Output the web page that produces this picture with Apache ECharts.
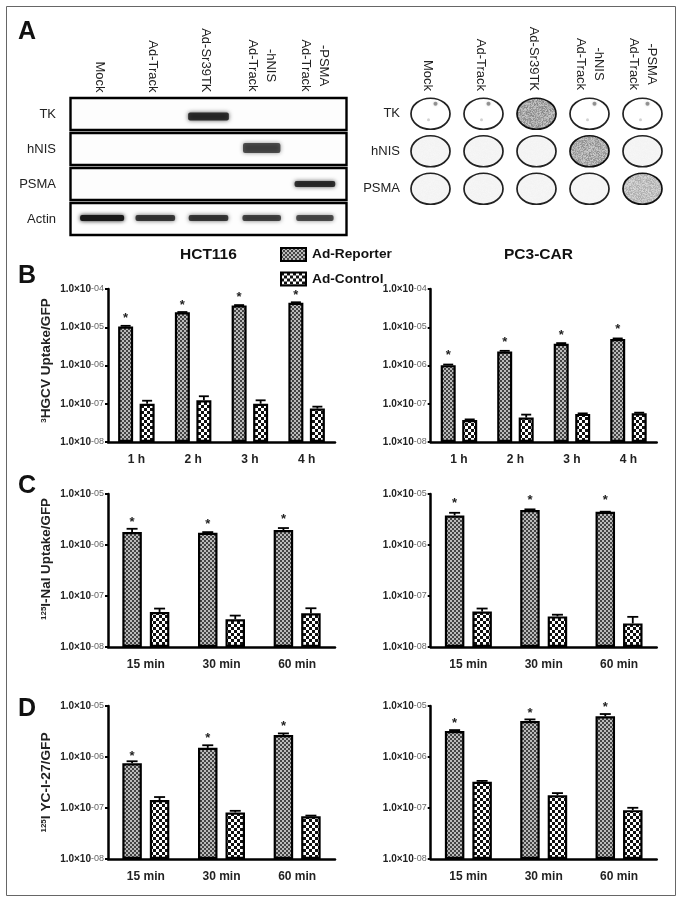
<!DOCTYPE html>
<html><head><meta charset="utf-8">
<style>html,body{margin:0;padding:0;background:#fff}#c{width:682px;height:902px;filter:blur(0.4px)}</style>
<script src="https://cdn.jsdelivr.net/npm/echarts@6/dist/echarts.min.js"></script>
</head><body><div id="c"></div>
<script>
// ---------- data ----------
const lanes = ['Mock','Ad-Track','Ad-Sr39TK','Ad-Track\n-hNIS','Ad-Track\n-PSMA'];
const blotRows = ['TK','hNIS','PSMA','Actin'];
const dotRows = ['TK','hNIS','PSMA'];
const bandTK    = [0,0,0.85,0,0];
const bandNIS   = [0,0,0,0.7,0];
const bandPSMA  = [0,0,0,0,0.85];
const bandActin = [1,0.8,0.8,0.75,0.7];
const dotTK   = [0,0,0.62,0,0];
const dotNIS  = [0.03,0.03,0.03,0.58,0.03];
const dotPSMA = [0.03,0.03,0.03,0.02,0.42];

const hours = ['1 h','2 h','3 h','4 h'];
const minutes = ['15 min','30 min','60 min'];
const legendNames = ['Ad-Reporter','Ad-Control'];

const ticksB = ['-04','-05','-06','-07','-08'];
const ticksC = ['-05','-06','-07','-08'];
const ticksD = ['-05','-06','-07','-08'];

const bLeftRep  = [1.05e-5,2.45e-5,3.73e-5,4.38e-5];
const bLeftRepE = [1.09e-5,2.5e-5,3.8e-5,4.5e-5];
const bLeftCtl  = [1.0e-7,1.24e-7,1.0e-7,7.5e-8];
const bLeftCtlE = [1.2e-7,1.57e-7,1.23e-7,8.4e-8];
const bLeftStar = [1.85e-5,4.13e-5,6.68e-5,7.55e-5];

const bRightRep  = [1.02e-6,2.33e-6,3.7e-6,4.9e-6];
const bRightRepE = [1.06e-6,2.42e-6,3.85e-6,5.1e-6];
const bRightCtl  = [3.77e-8,4.35e-8,5.42e-8,5.64e-8];
const bRightCtlE = [3.9e-8,5.2e-8,5.6e-8,5.85e-8];
const bRightStar = [2.02e-6,4.43e-6,6.89e-6,9.5e-6];

const cLeftRep  = [1.79e-6,1.74e-6,1.96e-6];
const cLeftRepE = [2.08e-6,1.79e-6,2.15e-6];
const cLeftCtl  = [4.87e-8,3.5e-8,4.6e-8];
const cLeftCtlE = [5.67e-8,4.13e-8,5.75e-8];
const cLeftStar = [3.0e-6,2.73e-6,3.33e-6];

const cRightRep  = [3.8e-6,4.84e-6,4.5e-6];
const cRightRepE = [4.28e-6,5.0e-6,4.5e-6];
const cRightCtl  = [4.95e-8,3.98e-8,2.9e-8];
const cRightCtlE = [5.68e-8,4.3e-8,3.9e-8];
const cRightStar = [6.96e-6,7.85e-6,7.85e-6];

const dLeftRep  = [7.5e-7,1.51e-6,2.69e-6];
const dLeftRepE = [8.25e-7,1.7e-6,2.9e-6];
const dLeftCtl  = [1.43e-7,8.17e-8,6.9e-8];
const dLeftCtlE = [1.64e-7,8.8e-8,7.1e-8];
const dLeftStar = [1.12e-6,2.49e-6,4.29e-6];

const dRightRep  = [3.22e-6,5.07e-6,6.26e-6];
const dRightRepE = [3.37e-6,5.46e-6,6.96e-6];
const dRightCtl  = [3.28e-7,1.77e-7,9.08e-8];
const dRightCtlE = [3.4e-7,1.96e-7,1.01e-7];
const dRightStar = [4.84e-6,7.73e-6,1.0e-5];

// ---------- textures ----------
const FONT = '"Liberation Sans", Arial, sans-serif';
function tile(w,h,draw){const c=document.createElement('canvas');c.width=w;c.height=h;draw(c.getContext('2d'));return {image:c,repeat:'repeat'};}
const patReporter = tile(4,4,g=>{g.fillStyle='#bbb';g.fillRect(0,0,4,4);g.fillStyle='#444';g.fillRect(0,0,2,2);g.fillRect(2,2,2,2);});
const patControl = tile(6,6,g=>{g.fillStyle='#fff';g.fillRect(0,0,6,6);g.fillStyle='#111';g.fillRect(0,0,3,3);g.fillRect(3,3,3,3);});
function hash(x,y){const s=Math.sin(x*127.1+y*311.7)*43758.5453;return s-Math.floor(s);}
const speckCache={};
function speckle(level){
  const k=level.toFixed(2);
  if(!speckCache[k]) speckCache[k]=tile(40,34,g=>{
    for(let y=0;y<34;y++)for(let x=0;x<40;x++){
      const n=hash(x,y)-0.5, v=Math.round(248-level*130+n*level*110);
      g.fillStyle='rgb('+v+','+v+','+v+')';g.fillRect(x,y,1,1);
    }});
  return speckCache[k];
}

// ---------- chart build ----------
const grids=[],xAxes=[],yAxes=[],series=[];

function blotPanel(left,width,top,height,rows,labelRight){
  const gi=grids.length;
  grids.push({left,top,width,height});
  xAxes.push({type:'category',gridIndex:gi,position:'top',data:lanes,axisLine:{show:false},axisTick:{show:false},
    axisLabel:{rotate:90,margin:4,interval:0,fontFamily:FONT,fontSize:13,color:'#222',
      rich:{c:{width:54,align:'center',lineHeight:18,fontFamily:FONT,fontSize:13,color:'#222'},
            s:{fontFamily:FONT,fontSize:13,color:'#222',padding:[5,0,0,0]}},
      formatter:v=>{const p=v.split('\n');return p.length<2?'{s|'+v+'}':'{c|'+p[1]+'}\n{c|'+p[0]+'}';}}});
  yAxes.push({type:'category',gridIndex:gi,inverse:true,data:rows,axisLine:{show:false},axisTick:{show:false},
    axisLabel:{margin:left-labelRight,fontFamily:FONT,fontSize:13,color:'#222'}});
  return gi;
}

// Western blot
const gWest=blotPanel(75.5,266,96.5,140,blotRows,56);
series.push({type:'custom',xAxisIndex:gWest,yAxisIndex:gWest,silent:true,z:2,
  data:blotRows.map((r,i)=>[2,i]),
  renderItem:(p,api)=>{const c=api.coord([2,api.value(1)]);return {type:'rect',
    shape:{x:p.coordSys.x-5,y:c[1]-16,width:p.coordSys.width+10,height:32},
    style:{fill:'#fdfdfd',stroke:'#000',lineWidth:2.4}};}});
const bandRows=[bandTK,bandNIS,bandPSMA,bandActin];
series.push({type:'custom',xAxisIndex:gWest,yAxisIndex:gWest,silent:true,z:3,
  data:bandRows.flatMap((row,r)=>row.map((v,l)=>[l,r,v])).filter(d=>d[2]>0),
  renderItem:(p,api)=>{
    const I=api.value(2),c=api.coord([api.value(0),api.value(1)]),r=api.value(1);
    const w=22+22*I,h=[8,10,6,6][r],dy=[2.5,-1,0,-1][r],col='rgba(25,25,25,'+I+')';
    return {type:'rect',shape:{x:c[0]-w/2,y:c[1]+dy-h/2,width:w,height:h,r:2},
      style:{fill:col,shadowBlur:4,shadowColor:col}};
  }});

// Dot blot
const gDot=blotPanel(404,265,95,112.5,dotRows,400);
const dotMatrix=[dotTK,dotNIS,dotPSMA];
series.push({type:'custom',xAxisIndex:gDot,yAxisIndex:gDot,silent:true,z:3,
  data:dotMatrix.flatMap((row,r)=>row.map((v,l)=>[l,r,v])),
  renderItem:(p,api)=>{
    const I=api.value(2),c=api.coord([api.value(0),api.value(1)]),r=api.value(1);
    const kids=[{type:'ellipse',shape:{cx:c[0],cy:c[1],rx:19.5,ry:15.5},
      style:{fill:I>0?speckle(I):'#fff',stroke:I>0.3?'#111':'#222',lineWidth:1.7}}];
    if(r===0&&I===0){
      kids.push({type:'circle',shape:{cx:c[0]+5,cy:c[1]-10,r:2},style:{fill:'rgba(90,90,90,.55)',shadowBlur:2,shadowColor:'#999'}});
      kids.push({type:'circle',shape:{cx:c[0]-2,cy:c[1]+6,r:1.5},style:{fill:'rgba(140,140,140,.4)'}});
    }
    return {type:'group',children:kids};
  }});

// Bar panels: ECharts log-axis bars rise from the value 1, so the plotted axis is
// "multiples of the bottom tick"; the tick labels restore the true exponent.
function barPanel(o){
  const gi=grids.length;
  grids.push({left:o.left,top:o.top,width:o.width,height:153});
  const n=o.cats.length, bw=n===4?15:19.5, gap=n===4?6.5:8;
  const k=Math.pow(10,o.bottomExp), up=v=>v*k;
  xAxes.push({type:'category',gridIndex:gi,data:o.cats,
    axisLine:{lineStyle:{color:'#000',width:2.5}},
    axisTick:{alignWithLabel:true,length:4,lineStyle:{color:'#000',width:2}},
    axisLabel:{margin:12,interval:0,fontFamily:FONT,fontSize:12,fontWeight:'bold',color:'#222'}});
  const y={type:'log',logBase:10,gridIndex:gi,min:1,max:Math.pow(10,o.bottomExp-o.topExp),
    axisLine:{show:true,onZero:false,lineStyle:{color:'#000',width:2.5}},
    axisTick:{show:true,length:3,lineStyle:{color:'#000',width:2}},
    minorTick:{show:false},splitLine:{show:false},
    axisLabel:{margin:4,formatter:v=>{const e=o.bottomExp-Math.round(Math.log10(v));return '{a|1.0\u00d710}{b|'+o.ticks[e-o.topExp]+'}';},
      rich:{a:{fontFamily:FONT,fontSize:10,fontWeight:'bold',color:'#222'},
            b:{fontFamily:FONT,fontSize:9,color:'#666',verticalAlign:'top',lineHeight:10,padding:[0,0,3,0]}}}};
  if(o.name){
    y.name=o.name;y.nameLocation='middle';y.nameGap=55;y.nameRotate=90;
    y.nameTextStyle={padding:[0,0,0,o.namePad],rich:{s:{fontFamily:FONT,fontSize:8,fontWeight:'bold',color:'#222',padding:[0,0,5,0]},
                           t:{fontFamily:FONT,fontSize:o.nameSize,fontWeight:'bold',color:'#222'}}};
  }
  yAxes.push(y);
  const bar=(name,data,pat)=>({type:'bar',name,xAxisIndex:gi,yAxisIndex:gi,data:data.map(up),barWidth:bw,barGap:(gap/bw*100)+'%',silent:true,
    itemStyle:{color:pat,borderColor:'#000',borderWidth:2.2},z:2});
  series.push(bar(legendNames[0],o.rep,patReporter),bar(legendNames[1],o.ctl,patControl));
  const off=(bw+gap)/2, cap=n===4?10:11;
  const whisk=(vals,errs,dx)=>({type:'custom',xAxisIndex:gi,yAxisIndex:gi,silent:true,z:3,
    data:vals.map((v,i)=>[i,up(v),up(errs[i])]),
    renderItem:(p,api)=>{
      const a=api.coord([api.value(0),api.value(1)]),b=api.coord([api.value(0),api.value(2)]),x=a[0]+dx;
      return {type:'group',children:[
        {type:'line',shape:{x1:x,y1:a[1],x2:x,y2:b[1]},style:{stroke:'#000',lineWidth:1.8}},
        {type:'line',shape:{x1:x-cap/2,y1:b[1],x2:x+cap/2,y2:b[1]},style:{stroke:'#000',lineWidth:1.8}}]};
    }});
  series.push(whisk(o.rep,o.repE,-off),whisk(o.ctl,o.ctlE,off));
  series.push({type:'custom',xAxisIndex:gi,yAxisIndex:gi,silent:true,z:4,clip:false,
    data:o.star.map((v,i)=>[i,up(v)]),
    renderItem:(p,api)=>{const a=api.coord([api.value(0),api.value(1)]);
      return {type:'text',style:{x:a[0]-off,y:a[1]+1.5,text:'*',fontFamily:FONT,fontSize:13,fontWeight:'bold',fill:'#222',align:'center',verticalAlign:'middle'}};}});
}

const LX=108,RX=430.7,LW=227,RW=226;
barPanel({left:LX,width:LW,top:289,cats:hours,topExp:4,bottomExp:8,ticks:ticksB,rep:bLeftRep,repE:bLeftRepE,ctl:bLeftCtl,ctlE:bLeftCtlE,star:bLeftStar,
  name:'{s|3}{t|HGCV Uptake/GFP}',nameSize:13.6,namePad:10});
barPanel({left:RX,width:RW,top:289,cats:hours,topExp:4,bottomExp:8,ticks:ticksB,rep:bRightRep,repE:bRightRepE,ctl:bRightCtl,ctlE:bRightCtlE,star:bRightStar});
barPanel({left:LX,width:LW,top:494,cats:minutes,topExp:5,bottomExp:8,ticks:ticksC,rep:cLeftRep,repE:cLeftRepE,ctl:cLeftCtl,ctlE:cLeftCtlE,star:cLeftStar,
  name:'{s|125}{t|I-NaI Uptake/GFP}',nameSize:13.4,namePad:23});
barPanel({left:RX,width:RW,top:494,cats:minutes,topExp:5,bottomExp:8,ticks:ticksC,rep:cRightRep,repE:cRightRepE,ctl:cRightCtl,ctlE:cRightCtlE,star:cRightStar});
barPanel({left:LX,width:LW,top:706,cats:minutes,topExp:5,bottomExp:8,ticks:ticksD,rep:dLeftRep,repE:dLeftRepE,ctl:dLeftCtl,ctlE:dLeftCtlE,star:dLeftStar,
  name:'{s|125}{t|I YC-I-27/GFP}',nameSize:13.7,namePad:0});
barPanel({left:RX,width:RW,top:706,cats:minutes,topExp:5,bottomExp:8,ticks:ticksD,rep:dRightRep,repE:dRightRepE,ctl:dRightCtl,ctlE:dRightCtlE,star:dRightStar});

const letter=(t,y)=>({type:'text',left:18,top:y,silent:true,style:{text:t,fontFamily:FONT,fontSize:25,fontWeight:'bold',fill:'#111'}});
const heading=(t,x)=>({type:'text',left:x,top:247,silent:true,style:{text:t,fontFamily:FONT,fontSize:15.5,fontWeight:'bold',fill:'#111'}});

const chart=echarts.init(document.getElementById('c'),null,{renderer:'canvas'});
chart.setOption({
  animation:false,backgroundColor:'#fff',
  grid:grids,xAxis:xAxes,yAxis:yAxes,series,
  legend:{data:legendNames,orient:'vertical',left:275,top:242,padding:5,icon:'rect',itemWidth:25,itemHeight:13,itemGap:9.5,selectedMode:false,
    textStyle:{fontFamily:FONT,fontSize:13.7,fontWeight:'bold',color:'#111',padding:[0,0,0,1]}},
  graphic:[
    {type:'rect',silent:true,z:-1,shape:{x:6.5,y:6.5,width:669,height:889},style:{fill:'#fff',stroke:'#666',lineWidth:1}},
    letter('A',20),letter('B',264),letter('C',474),letter('D',697),
    heading('HCT116',180),heading('PC3-CAR',504)
  ]
});
</script>
</body></html>
